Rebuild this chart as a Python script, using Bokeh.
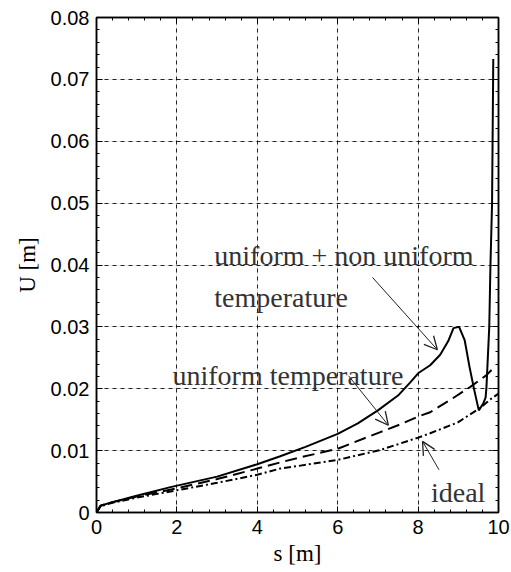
from bokeh.plotting import figure
from bokeh.models import (FixedTicker, LinearAxis, Label, Arrow, OpenHead, Range1d, Grid)
from bokeh.embed import file_html
from bokeh.resources import INLINE

# ---- data ----
s_combined = [0, 0.1, 0.35, 1, 1.84, 3, 4, 4.57, 5.2, 6, 6.5, 7, 7.5, 7.8, 8.0, 8.3,
              8.55, 8.75, 8.88, 9.02, 9.16, 9.28, 9.4, 9.51, 9.62, 9.68, 9.70, 9.77,
              9.80, 9.84, 9.87]
u_combined = [0, 0.0011, 0.0016, 0.0027, 0.0041, 0.0058, 0.0078, 0.0091, 0.0106, 0.0127,
              0.0144, 0.0165, 0.0189, 0.0210, 0.0225, 0.0238, 0.0255, 0.0277, 0.0298,
              0.0300, 0.0278, 0.0235, 0.0197, 0.0165, 0.0176, 0.0186, 0.0202, 0.030,
              0.040, 0.050, 0.0733]

s_uniform = [0, 0.1, 0.35, 1, 2, 3, 4, 4.57, 5, 6, 7.06, 7.5, 8, 8.3, 8.8, 9.3, 9.7, 9.9]
u_uniform = [0, 0.0011, 0.0016, 0.0026, 0.0039, 0.0054, 0.0071, 0.0081, 0.0088, 0.0103,
             0.0130, 0.0141, 0.0155, 0.0162, 0.0182, 0.0203, 0.0222, 0.0235]

s_ideal = [0, 0.1, 0.35, 1, 1.84, 3, 4, 4.57, 5, 6, 7.06, 8, 8.3, 9, 9.16, 9.5, 9.82, 10]
u_ideal = [0, 0.001, 0.0015, 0.0024, 0.0034, 0.0048, 0.0061, 0.0071, 0.0075, 0.0085,
           0.0101, 0.0121, 0.0128, 0.0146, 0.0153, 0.0167, 0.0184, 0.0192]

x_ticks = [0, 2, 4, 6, 8, 10]
x_tick_labels = ["0", "2", "4", "6", "8", "10"]
x_minor = [0.4, 0.8, 1.2, 1.6, 2.4, 2.8, 3.2, 3.6, 4.4, 4.8, 5.2, 5.6, 6.4, 6.8, 7.2, 7.6,
           8.4, 8.8, 9.2, 9.6]
y_ticks = [0, 0.01, 0.02, 0.03, 0.04, 0.05, 0.06, 0.07, 0.08]
y_tick_labels = ["0", "0.01", "0.02", "0.03", "0.04", "0.05", "0.06", "0.07", "0.08"]
y_minor = [0.002, 0.004, 0.006, 0.008, 0.012, 0.014, 0.016, 0.018, 0.022, 0.024, 0.026,
           0.028, 0.032, 0.034, 0.036, 0.038, 0.042, 0.044, 0.046, 0.048, 0.052, 0.054,
           0.056, 0.058, 0.062, 0.064, 0.066, 0.068, 0.072, 0.074, 0.076, 0.078]

SERIF = "Liberation Serif"
SANS = "Liberation Sans"

p = figure(width=511, height=572, output_backend="svg", toolbar_location=None,
           x_range=Range1d(0, 10), y_range=Range1d(0, 0.08),
           min_border_left=96, min_border_right=13, min_border_top=17,
           min_border_bottom=60, x_axis_location=None, y_axis_location=None)
p.background_fill_color = "white"
p.border_fill_color = "white"
p.outline_line_color = "black"
p.outline_line_width = 1.5

xt = FixedTicker(ticks=x_ticks, minor_ticks=x_minor)
yt = FixedTicker(ticks=y_ticks, minor_ticks=y_minor)


def style_axis(ax):
    ax.axis_line_color = "black"
    ax.axis_line_width = 1.5
    ax.major_tick_in = 6
    ax.major_tick_out = 0
    ax.minor_tick_in = 3
    ax.minor_tick_out = 0
    ax.major_tick_line_color = "black"
    ax.minor_tick_line_color = "black"
    ax.major_label_text_font = SANS
    ax.major_label_text_font_size = "20px"
    ax.major_label_text_color = "black"
    ax.major_label_standoff = 7
    ax.axis_label_text_font = SERIF
    ax.axis_label_text_font_size = "23px"
    ax.axis_label_text_font_style = "normal"
    ax.axis_label_text_color = "black"


bottom = LinearAxis(ticker=xt, major_label_overrides=dict(zip(x_ticks, x_tick_labels)),
                    axis_label="s [m]")
style_axis(bottom)
bottom.axis_label_standoff = 4
left = LinearAxis(ticker=yt, major_label_overrides=dict(zip(y_ticks, y_tick_labels)),
                  axis_label="U [m]")
style_axis(left)
left.axis_label_standoff = 8
top = LinearAxis(ticker=xt, major_label_overrides={t: "" for t in x_ticks})
style_axis(top)
top.major_label_standoff = 0
right = LinearAxis(ticker=yt, major_label_overrides={t: "" for t in y_ticks})
style_axis(right)
right.major_label_standoff = 0
p.add_layout(bottom, "below")
p.add_layout(left, "left")
p.add_layout(top, "above")
p.add_layout(right, "right")

gx = Grid(dimension=0, ticker=xt, grid_line_color="black", grid_line_dash="4 4",
          grid_line_width=1, grid_line_alpha=0.85)
gy = Grid(dimension=1, ticker=yt, grid_line_color="black", grid_line_dash="4 4",
          grid_line_width=1, grid_line_alpha=0.85)
p.add_layout(gx)
p.add_layout(gy)

p.line(s_ideal, u_ideal, line_color="black", line_width=2, line_dash="7 3 2 3")
p.line(s_uniform, u_uniform, line_color="black", line_width=2, line_dash="12 6")
p.line(s_combined, u_combined, line_color="black", line_width=2)

txt = "#333333"
for (x, y, t) in [(2.93, 0.04154, "uniform + non uniform"),
                  (2.93, 0.0348, "temperature"),
                  (1.89, 0.02214, "uniform temperature"),
                  (8.32, 0.00323, "ideal")]:
    p.add_layout(Label(x=x, y=y, text=t, text_font=SERIF, text_font_size="28px",
                       text_color=txt, text_baseline="alphabetic", text_align="left"))

for (xs, ys, xe, ye) in [(6.865, 0.0380, 8.48, 0.0263),
                         (6.27, 0.0221, 7.26, 0.0141),
                         (8.52, 0.0069, 8.11, 0.0115)]:
    p.add_layout(Arrow(end=OpenHead(size=13, line_width=1.3, line_color="#222222"),
                       x_start=xs, y_start=ys, x_end=xe, y_end=ye,
                       line_width=1, line_color="#222222"))

open("out.html", "w").write(file_html(p, INLINE))
